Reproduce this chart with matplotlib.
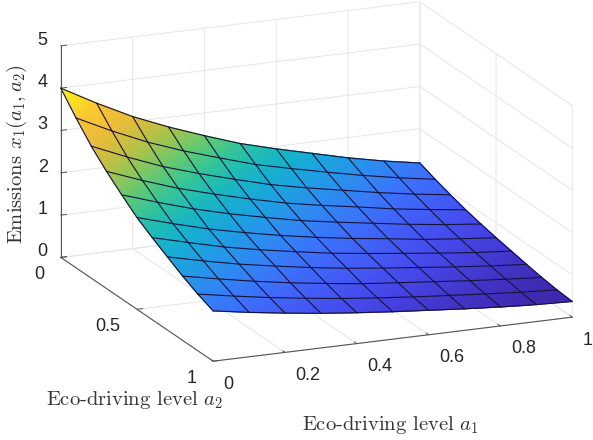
import matplotlib
matplotlib.use('Agg')
import numpy as np
import matplotlib.pyplot as plt
from matplotlib.colors import LinearSegmentedColormap, Normalize
from mpl_toolkits.mplot3d import proj3d

plt.rcParams['font.family'] = ['Liberation Sans', 'DejaVu Sans']
plt.rcParams['mathtext.fontset'] = 'cm'

a1_levels = [0, 0.1, 0.2, 0.3, 0.4, 0.5, 0.6, 0.7, 0.8, 0.9, 1.0]
a2_levels = [0, 0.1, 0.2, 0.3, 0.4, 0.5, 0.6, 0.7, 0.8, 0.9, 1.0]

# emissions, one row per a2 level
emissions = [
    [4.00, 3.54, 3.12, 2.77, 2.46, 2.17, 1.94, 1.73, 1.52, 1.34, 1.19],
    [3.54, 3.13, 2.76, 2.45, 2.18, 1.92, 1.72, 1.53, 1.35, 1.19, 1.05],
    [3.12, 2.76, 2.43, 2.16, 1.92, 1.69, 1.51, 1.35, 1.19, 1.05, 0.93],
    [2.77, 2.45, 2.16, 1.92, 1.70, 1.50, 1.34, 1.20, 1.05, 0.93, 0.82],
    [2.46, 2.18, 1.92, 1.70, 1.51, 1.33, 1.19, 1.06, 0.93, 0.82, 0.73],
    [2.17, 1.92, 1.69, 1.50, 1.33, 1.18, 1.05, 0.94, 0.82, 0.73, 0.65],
    [1.94, 1.72, 1.51, 1.34, 1.19, 1.05, 0.94, 0.84, 0.74, 0.65, 0.58],
    [1.73, 1.53, 1.35, 1.20, 1.06, 0.94, 0.84, 0.75, 0.66, 0.58, 0.51],
    [1.52, 1.35, 1.19, 1.05, 0.93, 0.82, 0.74, 0.66, 0.58, 0.51, 0.45],
    [1.34, 1.19, 1.05, 0.93, 0.82, 0.73, 0.65, 0.58, 0.51, 0.45, 0.40],
    [1.19, 1.05, 0.93, 0.82, 0.73, 0.65, 0.58, 0.51, 0.45, 0.40, 0.37],
]

a1_ticks = [0, 0.2, 0.4, 0.6, 0.8, 1]
a1_ticklabels = ['0', '0.2', '0.4', '0.6', '0.8', '1']
a2_ticks = [0, 0.5, 1]
a2_ticklabels = ['0', '0.5', '1']
z_ticks = [0, 1, 2, 3, 4, 5]
z_ticklabels = ['0', '1', '2', '3', '4', '5']

parula_colors = [
    (0.2422, 0.1504, 0.6603), (0.2803, 0.2782, 0.9221), (0.2440, 0.4358, 0.9988),
    (0.1540, 0.5902, 0.9218), (0.0500, 0.7100, 0.8100), (0.2000, 0.7800, 0.5900),
    (0.5000, 0.8000, 0.3500), (0.8500, 0.7400, 0.2200), (1.0000, 0.7200, 0.2200),
    (1.0000, 0.7800, 0.2000), (0.9763, 0.9831, 0.0538),
]


def main():
    parula = LinearSegmentedColormap.from_list('parula', parula_colors)
    A1, A2 = np.meshgrid(a1_levels, a2_levels)
    Z = np.array(emissions)
    norm = Normalize(Z.min(), Z.max())

    fig = plt.figure(figsize=(5.93, 4.40), dpi=100)
    size = 440
    left = 316.5 - 0.5135 * size
    bottom = 258.5 - 0.5135 * size
    rect = [left / 593, bottom / 440, size / 593, size / 440]
    ax = fig.add_axes(rect, projection='3d', proj_type='ortho')
    ax.view_init(elev=16.8, azim=-113)
    ax.set_box_aspect((1, 1, 0.5667), zoom=1.311)
    ax.set_xlim(0, 1)
    ax.set_ylim(1, 0)
    ax.set_zlim(0, 5)

    ax.plot_surface(A1, A2, Z, facecolors=parula(norm(Z)), rstride=1, cstride=1, shade=False)

    ax.set_xticks(a1_ticks, [''] * len(a1_ticks))
    ax.set_yticks(a2_ticks, [''] * len(a2_ticks))
    ax.set_zticks(z_ticks, [''] * len(z_ticks))
    for axis in (ax.xaxis, ax.yaxis, ax.zaxis):
        axis.set_pane_color((1, 1, 1, 0))
        axis.pane.set_edgecolor((1, 1, 1, 0))
        axis.line.set_color('#555555')
        axis.line.set_linewidth(0.8)
        axis._axinfo['grid'].update(color='#e6e6e6', linewidth=0.7)
        axis._axinfo['tick'].update(inward_factor=0.0, outward_factor=0.2, linewidth={True: 0.7, False: 0.5})
    ax.tick_params(axis='both', color='#555555')
    ax.tick_params(axis='z', color='#555555')

    # mplot3d has no smooth shading, so put a gouraud mesh over it at the projected nodes
    fig.canvas.draw()
    proj = ax.get_proj()
    xp, yp, _ = proj3d.proj_transform(A1.ravel(), A2.ravel(), Z.ravel(), proj)
    xp = np.reshape(xp, Z.shape)
    yp = np.reshape(yp, Z.shape)
    over = fig.add_axes(rect)
    over.axis('off')
    over.patch.set_alpha(0)
    mesh = over.pcolormesh(xp, yp, Z, shading='gouraud', cmap=parula, norm=norm, transform=ax.transData)
    mesh.set_clip_on(False)
    for i in range(Z.shape[0]):
        over.plot(xp[i], yp[i], color='#14143a', lw=0.8, transform=ax.transData, clip_on=False)
        over.plot(xp[:, i], yp[:, i], color='#14143a', lw=0.8, transform=ax.transData, clip_on=False)

    # tick labels sit where MATLAB put them, as pixel offsets from the tick base
    def tick_labels(xs, ys, zs, labels, dx, dy, ha):
        for x, y, z, label in zip(xs, ys, zs, labels):
            px, py, _ = proj3d.proj_transform(x, y, z, proj)
            over.annotate(label, xy=(px, py), xycoords=ax.transData, xytext=(dx, dy),
                          textcoords='offset pixels', ha=ha, va='center', fontsize=13,
                          color='#262626', annotation_clip=False)

    n = len(a1_ticks)
    tick_labels(a1_ticks, [1] * n, [0] * n, a1_ticklabels, 10.5, -23, 'left')
    n = len(a2_ticks)
    tick_labels([0] * n, a2_ticks, [0] * n, a2_ticklabels, -16.5, -17.5, 'right')
    n = len(z_ticks)
    tick_labels([0] * n, [0] * n, z_ticks, z_ticklabels, -13, 5.5, 'right')

    label_font = ['cmr10', 'DejaVu Serif']
    fig.text(134.5 / 593, 1 - 400 / 440, r'Eco-driving level $a_2$', family=label_font, fontsize=14.8,
             color='#333333', ha='center', va='center')
    fig.text(390.5 / 593, 1 - 425 / 440, r'Eco-driving level $a_1$', family=label_font, fontsize=14.8,
             color='#333333', ha='center', va='center')
    fig.text(17 / 593, 1 - 154 / 440, r'Emissions $x_1(a_1, a_2)$', family=label_font, fontsize=14.8,
             color='#333333', ha='center', va='center', rotation=90)

    fig.savefig('out.png', dpi=100)


if __name__ == '__main__':
    main()
